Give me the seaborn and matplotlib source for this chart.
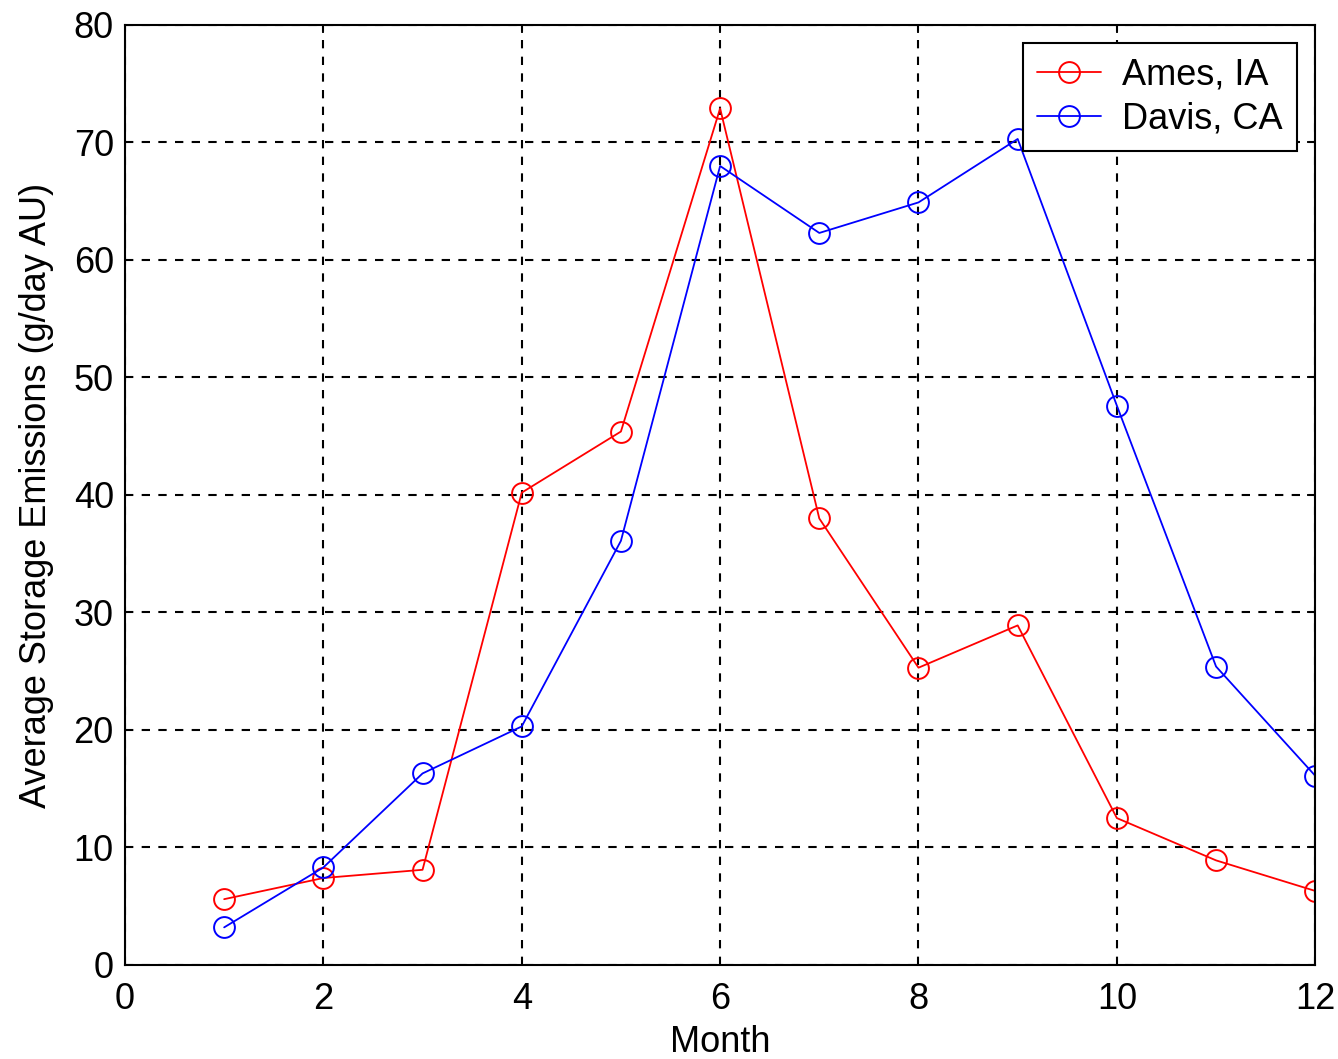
import numpy as np
import pandas as pd
import matplotlib
matplotlib.use("Agg")
import matplotlib.pyplot as plt
import seaborn as sns

months = [1, 2, 3, 4, 5, 6, 7, 8, 9, 10, 11, 12]
ames = [5.6, 7.4, 8.1, 40.2, 45.4, 72.9, 38.0, 25.3, 28.9, 12.5, 8.9, 6.3]
davis = [3.2, 8.3, 16.3, 20.3, 36.1, 68.0, 62.3, 64.9, 70.3, 47.6, 25.4, 16.1]
series_names = ["Ames, IA", "Davis, CA"]
series_colors = ["#ff0000", "#0000ff"]

df = pd.DataFrame({
    "Month": months * 2,
    "Emissions": ames + davis,
    "Site": [series_names[0]] * len(months) + [series_names[1]] * len(months),
})

sns.set_style("white")
plt.rcParams["font.family"] = ["Liberation Sans", "DejaVu Sans"]
plt.rcParams["text.color"] = "black"
plt.rcParams["axes.labelcolor"] = "black"

fig = plt.figure(figsize=(13.38, 10.59), dpi=100)
ax = fig.add_axes([0.0934, 0.0888, 0.8896, 0.8876])

sns.lineplot(data=df, x="Month", y="Emissions", hue="Site",
             palette=series_colors, marker="o", markersize=15,
             markerfacecolor="none", markeredgewidth=1.4, linewidth=1.3,
             ax=ax)
for line, c in zip(ax.lines, series_colors):
    line.set_markeredgecolor(c)

ax.set_xlim(0, 12)
ax.set_ylim(0, 80)
ax.set_xticks(range(0, 13, 2))
ax.set_yticks(range(0, 81, 10))
ax.grid(True, color="black", linestyle=(0, (4, 4)), linewidth=1.5)
ax.set_axisbelow(True)
for s in ax.spines.values():
    s.set_color("black")
    s.set_linewidth(1.5)
ax.tick_params(direction="in", length=6, width=1.3, labelsize=26,
               top=True, right=True, colors="black")
ax.tick_params(axis="x", pad=12)
ax.tick_params(axis="y", pad=8)
ax.set_xlabel("Month", fontsize=26, labelpad=6)
ax.set_ylabel("Average Storage Emissions (g/day AU)", fontsize=26, labelpad=14)

handles, labels = ax.get_legend_handles_labels()
for h, c in zip(handles, series_colors):
    h.set_marker("o")
    h.set_markersize(15)
    h.set_markerfacecolor("none")
    h.set_markeredgecolor(c)
    h.set_markeredgewidth(1.4)
leg = ax.legend(handles, labels, loc="upper right", bbox_to_anchor=(0.985, 0.981),
                borderaxespad=0, fontsize=26, frameon=True, fancybox=False,
                framealpha=1, edgecolor="black", handlelength=1.75,
                borderpad=0.4, labelspacing=0.25, handletextpad=0.6)
leg.get_frame().set_linewidth(1.5)
leg.set_zorder(10)

fig.savefig("out.png", dpi=100, facecolor="white")
